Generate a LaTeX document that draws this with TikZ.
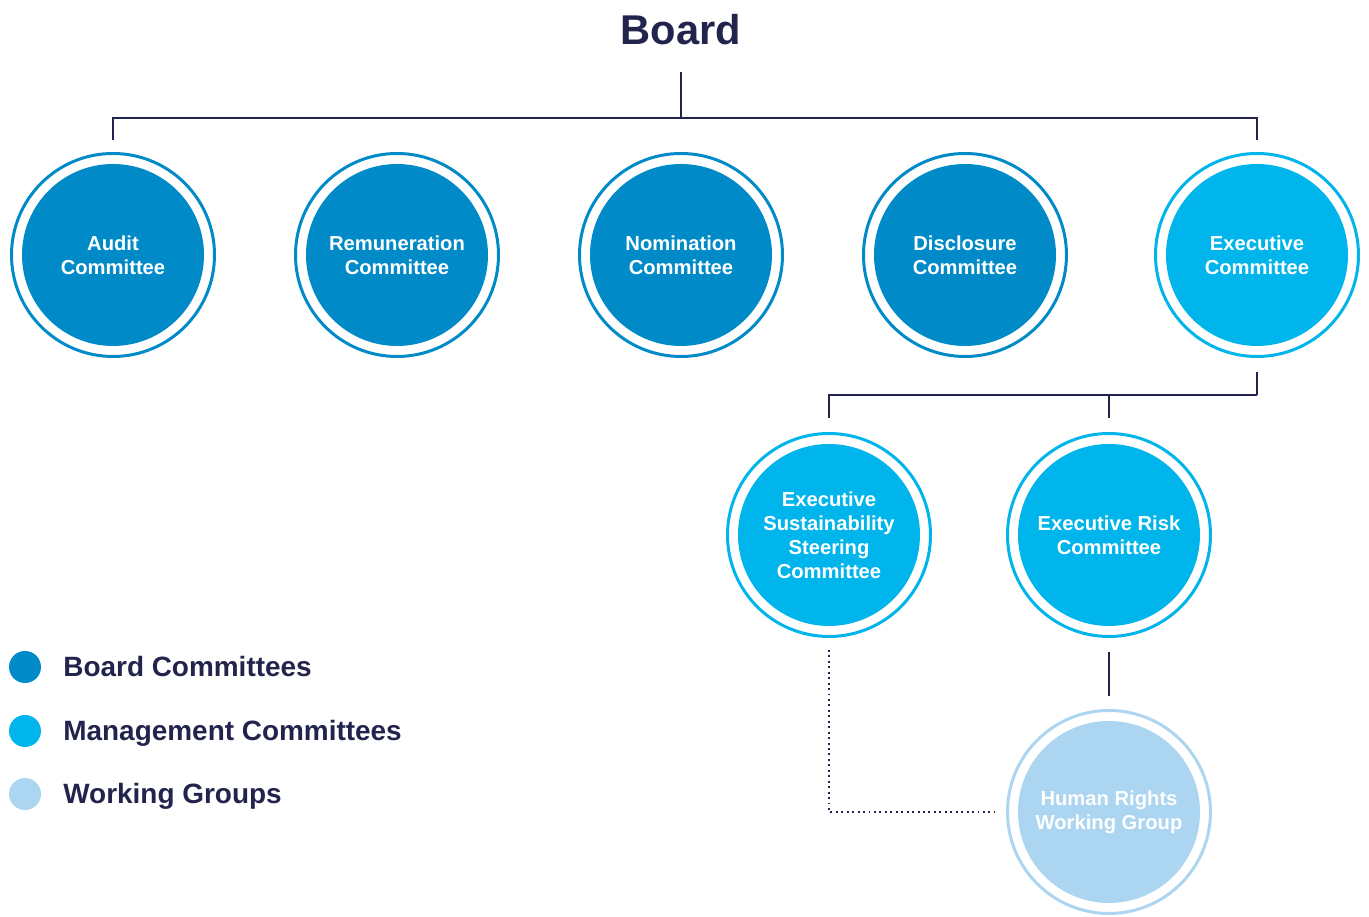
\documentclass[tikz,border=0pt]{standalone}
\usepackage{fontspec}
\setmainfont{Liberation Sans}
\usetikzlibrary{positioning}

\definecolor{boardblue}{HTML}{008BC8}
\definecolor{mgmtblue}{HTML}{00B5EC}
\definecolor{workblue}{HTML}{ABD5F0}
\definecolor{navy}{HTML}{23244D}

\tikzset{
    committee/.style={circle, draw=#1, fill=white, line width=1.7pt,
        minimum size=4.06cm, inner sep=0pt, align=center, text=white,
        font=\fontsize{11.5}{13.6}\selectfont\bfseries,
        path picture={\fill[#1] (path picture bounding box.center) circle (1.82cm);}},
    link/.style={navy, line width=1.1pt},
    weaklink/.style={navy, line width=1.1pt, dotted},
    legenddot/.style={circle, fill=#1, minimum size=0.64cm, inner sep=0pt},
    legendtext/.style={anchor=base west, inner sep=0pt, text=navy,
        font=\fontsize{15.9}{18}\selectfont\bfseries}
}

\begin{document}
\begin{tikzpicture}
    \useasboundingbox (0,0) rectangle (27.38,18.34);

    % Consejo
    \node[text=navy, font=\fontsize{23.7}{28}\selectfont\bfseries, inner sep=0pt]
        (board) at (13.62,17.74) {Board};

    % Comités del consejo
    \foreach \x/\id/\shade/\top in {
        2.26/audit/boardblue/Audit,
        7.94/remun/boardblue/Remuneration,
        13.62/nomin/boardblue/Nomination,
        19.30/discl/boardblue/Disclosure,
        25.14/exec/mgmtblue/Executive
    } {
        \node[committee=\shade] (\id) at (\x,13.24) {\top\\Committee};
    }

    % Comités de dirección
    \node[committee=mgmtblue] (essc) at (16.58,7.64)
        {Executive\\Sustainability\\Steering\\Committee};
    \node[committee=mgmtblue] (erc) at (22.18,7.64)
        {Executive Risk\\Committee};

    % Grupo de trabajo
    \node[committee=workblue, yshift=-0.05cm] (hrwg) at (22.18,2.15)
        {Human Rights\\Working Group};

    % Conexiones
    \coordinate (bus) at (13.62,15.98);
    \coordinate (execbus) at (25.14,10.44);
    \draw[link, shorten <=0.53cm] (board.south) -- (bus);
    \draw[link, shorten >=0.24cm] (bus) -| (audit.north);
    \draw[link, shorten >=0.24cm] (bus) -| (exec.north);
    \draw[link, shorten <=0.28cm] (exec.south) -- (execbus);
    \draw[link, shorten >=0.28cm] (execbus) -| (essc.north);
    \draw[link, shorten >=0.28cm] (execbus) -| (erc.north);
    \draw[link, shorten <=0.28cm, shorten >=0.26cm] (erc.south) -- (hrwg.north);
    \draw[weaklink, shorten <=0.24cm, shorten >=0.22cm] (essc.south) |- (hrwg.west);

    % Leyenda
    \node[legenddot=boardblue] (dotboard) at (0.50,5.00) {};
    \node[legenddot=mgmtblue] (dotmgmt) at (0.50,3.72) {};
    \node[legenddot=workblue] (dotwork) at (0.50,2.46) {};
    \node[legendtext] (txtboard) at (1.26,4.80) {Board Committees};
    \node[legendtext] (txtmgmt) at (1.26,3.52) {Management Committees};
    \node[legendtext] (txtwork) at (1.26,2.26) {Working Groups};
\end{tikzpicture}
\end{document}
